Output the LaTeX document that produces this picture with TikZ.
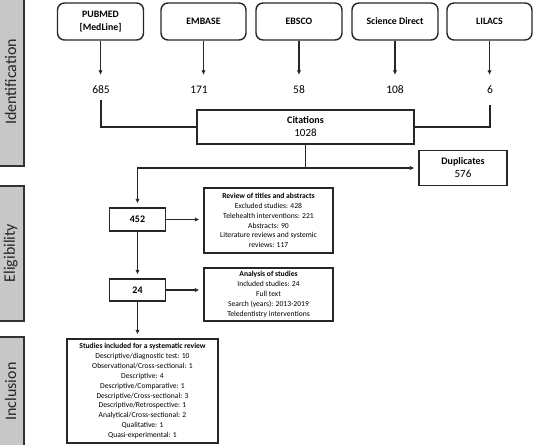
\documentclass[tikz,border=0pt]{standalone}
\usepackage{fontspec}
\setmainfont{Carlito}
\usetikzlibrary{arrows.meta}
\begin{document}
\begin{tikzpicture}[x=1pt,y=-1pt,
  src/.style={draw=black!85, line width=1.4pt, rounded corners=7pt, minimum width=85pt, minimum height=37pt, inner sep=0pt, align=center, font=\fontsize{9.8}{13}\selectfont\bfseries},
  num/.style={inner sep=0pt, font=\fontsize{11.5}{13}\selectfont, text height=8pt, text depth=0pt},
  box/.style={draw=black!85, line width=1.4pt, inner sep=0pt, align=center},
  small/.style={font=\fontsize{7.6}{9.9}\selectfont},
  side/.style={draw=black!80, fill=black!22, line width=2pt, rotate=90, inner sep=0pt, font=\fontsize{16}{18}\selectfont, text=black!85},
  conn/.style={draw=black!85, line width=1.3pt},
  arr/.style={conn, -{Latex[length=4.5pt,width=4.5pt]}, shorten >=4pt},
]
\useasboundingbox (0,0) rectangle (534,444);

% side bars
\node[side, minimum width=168pt, minimum height=25.5pt] (sid) at (10.75,82) {Identification};
\node[side, minimum width=135pt, minimum height=25.5pt] (sel) at (10.75,253) {Eligibility};
\node[side, minimum width=109pt, minimum height=25.5pt] (sin) at (10.75,391.5) {Inclusion};

% sources
\node[src, minimum width=86pt] (pub) at (100.5,21.5) {PUBMED\\{[MedLine]}};
\node[src] (emb) at (203.5,21.5) {EMBASE};
\node[src, minimum width=86pt] (ebs) at (299,21.5) {EBSCO};
\node[src, minimum width=86pt] (sd) at (395,21.5) {Science Direct};
\node[src] (lil) at (489.5,21.5) {LILACS};

% counts
\node[num] (n1) at (101,89) {685};
\node[num] (n2) at (199,89) {171};
\node[num] (n3) at (299,89) {58};
\node[num] (n4) at (395,89) {108};
\node[num] (n5) at (490,89) {6};

\draw[arr, shorten >=10pt] (pub.south) -- (pub.south |- n1.north);
\draw[arr, shorten >=10pt] (emb.south) -- (emb.south |- n2.north);
\draw[arr, shorten >=10pt] (ebs.south) -- (ebs.south |- n3.north);
\draw[arr, shorten >=10pt] (sd.south) -- (sd.south |- n4.north);
\draw[arr, shorten >=10pt] (lil.south) -- (lil.south |- n5.north);

% citations
\node[box, minimum width=217pt, minimum height=34pt, font=\fontsize{11}{13}\selectfont] (cit) at (305.5,127) {{\fontsize{10}{13}\selectfont\bfseries Citations}\\1028};
\draw[conn, shorten <=7pt] (n1.south) |- (cit.west);
\draw[conn, shorten <=12pt] (n5.south) |- (cit.east);

% duplicates
\node[box, minimum width=88pt, minimum height=35pt, font=\fontsize{11}{13}\selectfont] (dup) at (463,168) {{\fontsize{10}{13}\selectfont\bfseries Duplicates}\\576};

% eligibility
\node[box, minimum width=56pt, minimum height=23pt, font=\fontsize{10}{12}\selectfont\bfseries] (b452) at (137.5,219.5) {452};
\node[box, small, minimum width=129pt, minimum height=65pt] (rev) at (268.5,220.5) {\textbf{Review of titles and abstracts}\\Excluded studies: 428\\Telehealth interventions: 221\\Abstracts: 90\\Literature reviews and systemic\\reviews: 117};
\node[box, minimum width=56pt, minimum height=22pt, font=\fontsize{10}{12}\selectfont\bfseries] (b24) at (137.5,290) {24};
\node[box, small, minimum width=129pt, minimum height=53pt] (ana) at (268.5,294.5) {\textbf{Analysis of studies}\\Included studies: 24\\Full text\\Search (years): 2013-2019\\Teledentistry interventions};

% inclusion
\node[box, small, minimum width=151pt, minimum height=104pt] (inc) at (142.5,391) {\textbf{Studies included for a systematic review}\\Descriptive/diagnostic test: 10\\Observational/Cross-sectional: 1\\Descriptive: 4\\Descriptive/Comparative: 1\\Descriptive/Cross-sectional: 3\\Descriptive/Retrospective: 1\\Analytical/Cross-sectional: 2\\Qualitative: 1\\Quasi-experimental: 1};

% flow connectors
\coordinate (jn) at (cit.south |- dup.west);
\draw[conn] (cit.south) -- (jn);
\draw[arr] (jn) -- (dup.west);
\draw[arr] (jn) -| (b452.north);
\draw[arr] (b452.east) -- (b452.east -| rev.west);
\draw[arr] (b452.south) -- (b24.north);
\draw[arr] (b24.east) -- (b24.east -| ana.west);
\draw[arr] (b24.south) -- (b24.south |- inc.north);
\end{tikzpicture}
\end{document}
